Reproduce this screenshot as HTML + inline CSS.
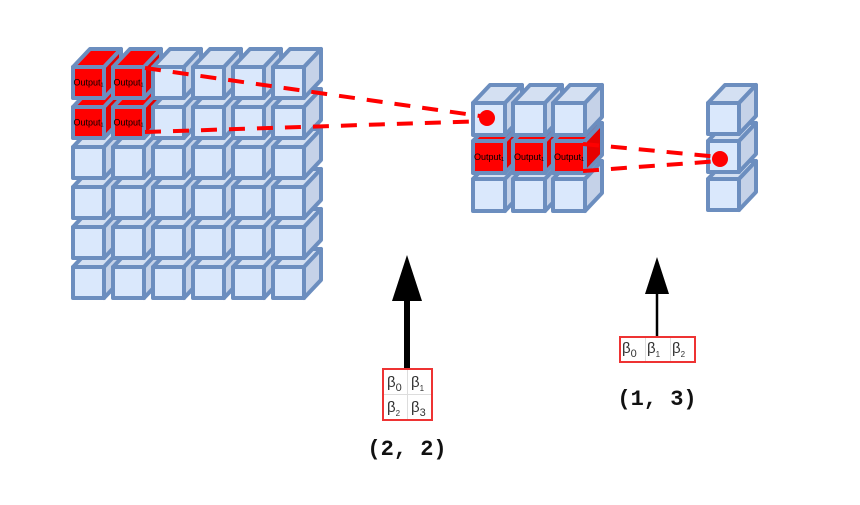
<!DOCTYPE html>
<html><head><meta charset="utf-8"><style>
html,body{margin:0;padding:0;background:#fff;width:860px;height:505px;overflow:hidden}
svg text{font-family:"Liberation Sans",sans-serif}
</style></head><body>
<svg id="s" width="860" height="505" viewBox="0 0 860 505" xmlns="http://www.w3.org/2000/svg">
<g id="cubes"></g>
<g id="lines">
<line x1="145" y1="68" x2="487" y2="117" stroke="#f00" stroke-width="4" stroke-dasharray="16,12"/>
<line x1="145" y1="132" x2="487" y2="121" stroke="#f00" stroke-width="4" stroke-dasharray="16,12"/>
<circle cx="487" cy="118" r="8" fill="#f00"/>
<line x1="583" y1="144" x2="720" y2="157" stroke="#f00" stroke-width="4" stroke-dasharray="16,12"/>
<line x1="583" y1="171" x2="720" y2="161" stroke="#f00" stroke-width="4" stroke-dasharray="16,12"/>
<circle cx="720" cy="159" r="8" fill="#f00"/>
</g>
<g>
<line x1="407" y1="370" x2="407" y2="295" stroke="#000" stroke-width="6"/>
<polygon points="407,255 392,301 422,301" fill="#000"/>
</g>
<g>
<line x1="657" y1="337" x2="657" y2="290" stroke="#000" stroke-width="2.5"/>
<polygon points="657,257 645,294 669,294" fill="#000"/>
</g>
<g>
<rect x="383" y="369" width="49" height="51" fill="#fff" stroke="#e33" stroke-width="2"/>
<line x1="407.5" y1="370" x2="407.5" y2="419" stroke="#ddd"/>
<line x1="384" y1="394.5" x2="431" y2="394.5" stroke="#ddd"/>
<text x="387" y="387" font-size="15" fill="#333">β<tspan font-size="11" dy="4">0</tspan></text>
<text x="411" y="387" font-size="15" fill="#333">β<tspan font-size="8" dy="4">1</tspan></text>
<text x="387" y="412" font-size="15" fill="#333">β<tspan font-size="8" dy="4">2</tspan></text>
<text x="411" y="412" font-size="15" fill="#333">β<tspan font-size="11" dy="4">3</tspan></text>
</g>
<g>
<rect x="620" y="337" width="75" height="25" fill="#fff" stroke="#e33" stroke-width="2"/>
<line x1="645.5" y1="338" x2="645.5" y2="361" stroke="#ddd"/>
<line x1="670.5" y1="338" x2="670.5" y2="361" stroke="#ddd"/>
<text x="622" y="353" font-size="15" fill="#333">β<tspan font-size="11" dy="4">0</tspan></text>
<text x="647" y="353" font-size="15" fill="#333">β<tspan font-size="8" dy="4">1</tspan></text>
<text x="672" y="353" font-size="15" fill="#333">β<tspan font-size="8" dy="4">2</tspan></text>
</g>
<text x="407" y="455" text-anchor="middle" font-size="22" font-weight="bold" fill="#111" style="font-family:'Liberation Mono',monospace">(2, 2)</text>
<text x="657" y="405" text-anchor="middle" font-size="22" font-weight="bold" fill="#111" style="font-family:'Liberation Mono',monospace">(1, 3)</text>
</svg>
<script>
var NS="http://www.w3.org/2000/svg";
var g=document.getElementById('cubes');
function cube(x,y,s,red,label){
  var dx=17,dy=-18,grp=document.createElementNS(NS,'g');
  
  
  var st='#6c8ebf';
  var faces=[
    [[x,y],[x+dx,y+dy],[x+s+dx,y+dy],[x+s,y]], red?'#f00':'#d4e0f2',
    [[x+s,y],[x+s+dx,y+dy],[x+s+dx,y+s+dy],[x+s,y+s]], red?'#e60000':'#c5d2e8',
    [[x,y],[x+s,y],[x+s,y+s],[x,y+s]], red?'#f00':'#dae8fc'];
  for(var i=0;i<faces.length;i+=2){
    var p=document.createElementNS(NS,'polygon');
    p.setAttribute('points',faces[i].map(function(a){return a.join(',')}).join(' '));
    p.setAttribute('fill',faces[i+1]);p.setAttribute('stroke',st);p.setAttribute('stroke-width','4');p.setAttribute('stroke-linejoin','round');
    grp.appendChild(p);
  }
  if(label){
    var t=document.createElementNS(NS,'text');
    t.setAttribute('x',x+s/2);t.setAttribute('y',y+s/2+3);t.setAttribute('text-anchor','middle');
    t.setAttribute('font-size','9');t.setAttribute('fill','#000');t.textContent='Output₁';
    grp.appendChild(t);
  }
  g.appendChild(grp);
}
for(var r=5;r>=0;r--)for(var c=0;c<6;c++){var red=(r<2&&c<2);cube(73+40*c,67+40*r,31,red,red);}
for(var r=2;r>=0;r--)for(var c=0;c<3;c++){var red=(r==1);cube(473+40*c,103+38*r,32,red,red);}
for(var r=2;r>=0;r--)cube(708,103+38*r,31,false,false);
</script>
</body></html>
